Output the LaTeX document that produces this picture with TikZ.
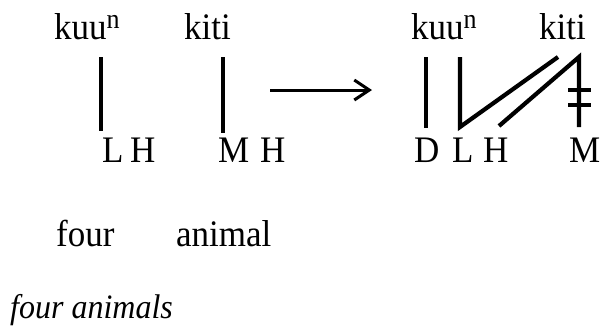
\documentclass[tikz,border=0pt]{standalone}
\usepackage{fontspec}
\setmainfont{Liberation Serif}
\usetikzlibrary{positioning, arrows.meta}
\usepackage{graphicx}
\newcommand{\tall}[1]{\scalebox{1}[1.07]{#1}}
\newcommand{\nasal}{\raisebox{10pt}{\fontsize{26}{26}\selectfont n}}

\begin{document}
\begin{tikzpicture}[
      x=1pt, y=-1pt,
      every node/.style={font=\fontsize{35}{35}\selectfont, inner sep=0pt, anchor=base west},
      assoc/.style={line width=4.2pt},
      >={Straight Barb[length=15pt, width=20pt]},
    ]
    \useasboundingbox (0,0) rectangle (608,327);

    % input form
    \node (w1) at (54,39) {\tall{kuu\nasal}};
    \node (w2) at (184,39) {\tall{kiti}};
    \node (t1) at (102,162) {\tall{L}};
    \node (t2) at (130,162) {\tall{H}};
    \node (t3) at (218,162) {\tall{M}};
    \node (t4) at (260,162) {\tall{H}};
    \coordinate (w1b) at (101,57);
    \coordinate (t1t) at (101,131);
    \coordinate (w2b) at (223,57);
    \coordinate (t3t) at (223,133);
    \draw[assoc] (w1b) -- (t1t);
    \draw[assoc] (w2b) -- (t3t);

    % rule arrow
    \coordinate (arrA) at (270,90);
    \coordinate (arrB) at (372,90);
    \draw[->, line width=3pt] (arrA) -- (arrB);

    % output form
    \node (v1) at (411,39) {\tall{kuu\nasal}};
    \node (v2) at (539,39) {\tall{kiti}};
    \node (s1) at (414,162) {\tall{D}};
    \node (s2) at (452,162) {\tall{L}};
    \node (s3) at (483,162) {\tall{H}};
    \node (s4) at (569,162) {\tall{M}};
    \coordinate (v1a) at (426,57);
    \coordinate (s1t) at (426,128);
    \coordinate (v1b) at (460,57);
    \coordinate (s2t) at (460,127);
    \coordinate (v2a) at (558,57);
    \coordinate (v2b) at (579,57);
    \coordinate (s3t) at (499,126);
    \coordinate (s4t) at (579,127);
    \draw[assoc] (v1a) -- (s1t);
    \draw[assoc] (v1b) -- (s2t) -- (v2a);
    \draw[assoc] (s3t) -- (v2b) -- (s4t);
    % delinking
    \draw[assoc] (568,90) -- (591,90);
    \draw[assoc] (568,105) -- (591,105);

    % glosses
    \node (g1) at (56,246) {\tall{four}};
    \node (g2) at (176,246) {\tall{animal}};
    \node[font=\fontsize{32}{32}\selectfont\itshape] (tr) at (10,318) {\tall{four animals}};
  \end{tikzpicture}
\end{document}
